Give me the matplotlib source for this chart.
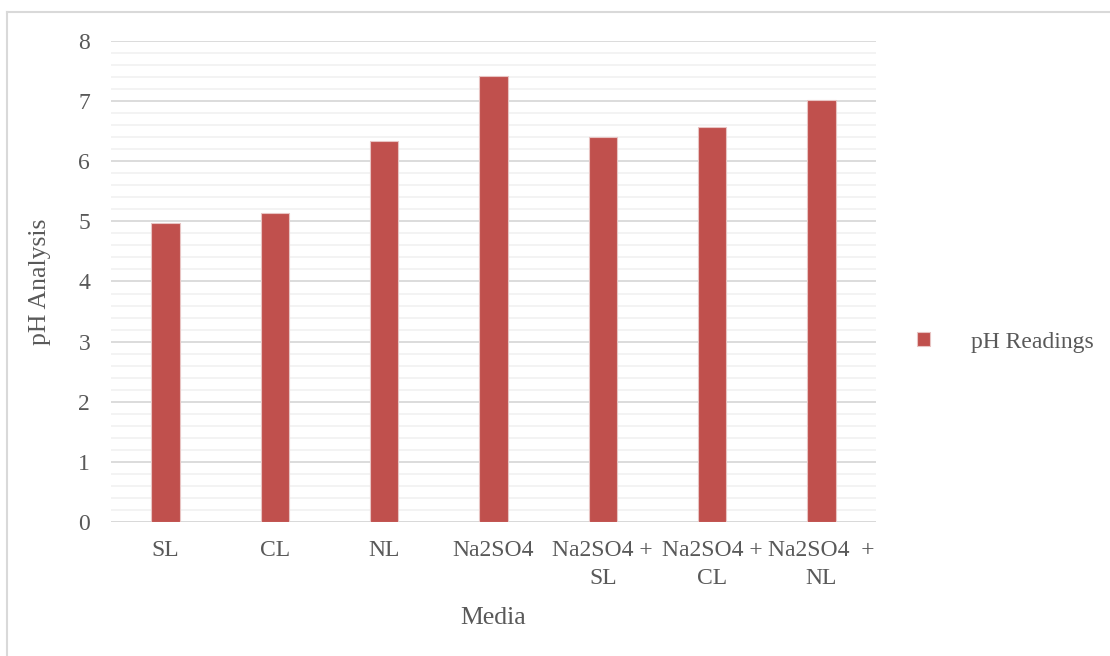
import matplotlib
matplotlib.use("Agg")
import matplotlib.pyplot as plt
from matplotlib.lines import Line2D
from matplotlib.ticker import MultipleLocator

media = ["SL", "CL", "NL", "Na2SO4", "Na2SO4 +\nSL", "Na2SO4 +\nCL", "Na2SO4  +\nNL"]
ph_readings = [4.98, 5.14, 6.34, 7.42, 6.41, 6.57, 7.02]

plt.rcParams["font.family"] = ["Liberation Serif", "DejaVu Serif"]
text_color = "#595959"

fig = plt.figure(figsize=(11.1, 6.56), dpi=100)
ax = fig.add_axes([0.1, 0.2043, 0.6892, 0.7332])

x = range(len(media))
bars = ax.bar(x, ph_readings, width=0.26, color="#C0504D", edgecolor="#E8C4C3",
              linewidth=0.8, label="pH Readings", zorder=3)

ax.set_xlim(-0.5, len(media) - 0.5)
ax.set_ylim(0, 8)
ax.yaxis.set_major_locator(MultipleLocator(1))
ax.yaxis.set_minor_locator(MultipleLocator(0.2))
ax.grid(axis="y", which="major", color="#D9D9D9", linewidth=1.3, zorder=1)
ax.grid(axis="y", which="minor", color="#F2F2F2", linewidth=1.3, zorder=0)
ax.set_axisbelow(True)

for side in ["top", "right", "left", "bottom"]:
    ax.spines[side].set_visible(False)
ax.axhline(0, color="#D9D9D9", linewidth=1.3, zorder=2)

ax.set_xticks(list(x))
ax.set_xticklabels(media, fontsize=17, color=text_color, linespacing=1.45)
ax.tick_params(axis="both", which="both", length=0)
ax.tick_params(axis="x", pad=13)
ax.tick_params(axis="y", pad=15)
for lbl in ax.get_yticklabels():
    lbl.set_fontsize(17)
    lbl.set_color(text_color)

ax.set_xlabel("Media", fontsize=18.5, color=text_color, labelpad=13)
ax.set_ylabel("pH Analysis", fontsize=18.5, color=text_color, labelpad=20)

ax.legend(handles=[bars], loc="center left", bbox_to_anchor=(1.026, 0.374),
          frameon=False, fontsize=17, labelcolor=text_color,
          handlelength=0.55, handleheight=0.55, handletextpad=1.75)

# chart area outline
fig.add_artist(Line2D([7 / 1110, 1], [1 - 12 / 656, 1 - 12 / 656],
                      transform=fig.transFigure, color="#D9D9D9", linewidth=1.5))
fig.add_artist(Line2D([7 / 1110, 7 / 1110], [0, 1 - 12 / 656],
                      transform=fig.transFigure, color="#D9D9D9", linewidth=1.5))

fig.savefig("out.png", dpi=100)
